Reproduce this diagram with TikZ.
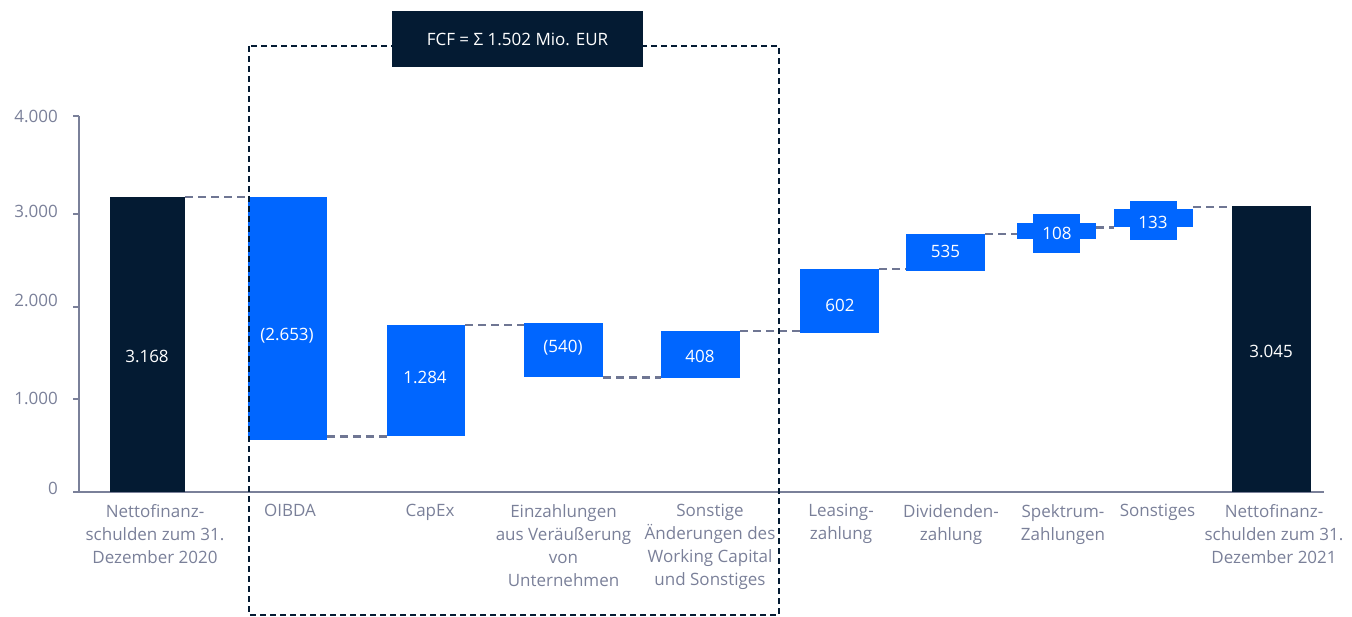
\documentclass[tikz,border=0pt]{standalone}
\usepackage{fontspec}
\setmainfont{Open Sans}
\definecolor{navy}{HTML}{041B33}
\definecolor{vblue}{HTML}{0066FF}
\definecolor{dgray}{HTML}{6F7693}
\definecolor{tgray}{HTML}{7A8099}
\begin{document}
\begin{tikzpicture}[x=1pt,y=-1pt,
  bar/.style={fill=vblue,draw=none,inner sep=0pt,anchor=north west},
  navybar/.style={fill=navy,draw=none,inner sep=0pt,anchor=north west},
  val/.style={text=white,font=\fontsize{17}{19}\selectfont,inner sep=0pt},
  cat/.style={text=tgray,font=\fontsize{17}{23}\selectfont,align=center,inner sep=0pt,anchor=north},
  ylab/.style={text=tgray,font=\fontsize{17}{19}\selectfont,inner sep=0pt,anchor=east},
  conn/.style={draw=dgray,line width=2.5pt,dash pattern=on 8pt off 5pt},
  axis/.style={draw=tgray,line width=2.5pt},
  fcfbox/.style={draw=navy,line width=2pt,dash pattern=on 6pt off 4pt}
]
\useasboundingbox (0,0) rectangle (1352,617);
% axes
\draw[axis] (79,116) -- (79,492) -- (1324,492);
\foreach \yy in {116,214,307,399,492}{
  \draw[axis] (73,\yy) -- (79,\yy);
}
\node[ylab] (y4) at (58,116) {4.000};
\node[ylab] (y3) at (58,211) {3.000};
\node[ylab] (y2) at (58,300) {2.000};
\node[ylab] (y1) at (58,398) {1.000};
\node[ylab] (y0) at (58,488) {0};
% bars
\node[navybar,minimum width=75pt,minimum height=295pt] (b1) at (110,197) {};
\node[bar,minimum width=79pt,minimum height=243pt] (oibda) at (248,197) {};
\node[bar,minimum width=78pt,minimum height=111pt] (capex) at (387,325) {};
\node[bar,minimum width=79pt,minimum height=54pt] (einz) at (524,323) {};
\node[bar,minimum width=79pt,minimum height=47pt] (sonst) at (661,331) {};
\node[bar,minimum width=79pt,minimum height=64pt] (leas) at (800,269) {};
\node[bar,minimum width=79pt,minimum height=37pt] (divi) at (906,234) {};
\node[bar,minimum width=79pt,minimum height=16pt] (spek) at (1017,223) {};
\node[bar,minimum width=47pt,minimum height=39pt] (spekl) at (1033,214) {};
\node[bar,minimum width=79pt,minimum height=18pt] (sons) at (1114,209) {};
\node[bar,minimum width=47pt,minimum height=39pt] (sonsl) at (1130,201) {};
\node[navybar,minimum width=79pt,minimum height=286pt] (endb) at (1232,206) {};
% values
\node[val] (v1) at (147,356) {3.168};
\node[val] (v2) at (287,336) {(2.653)};
\node[val] (v3) at (425,377) {1.284};
\node[val] (v4) at (563,348) {(540)};
\node[val] (v5) at (700,356) {408};
\node[val] (v6) at (840,305) {602};
\node[val] (v7) at (945.5,251) {535};
\node[val] (v8) at (1057,233) {108};
\node[val] (v9) at (1153,222) {133};
\node[val] (v10) at (1271,351) {3.045};
% connectors
\draw[conn] (b1.north east) -- (oibda.north west);
\draw[conn] (oibda.east |- capex.south west) -- (capex.south west);
\draw[conn] (capex.north east) -- (capex.north east -| einz.west);
\draw[conn] (einz.south east) -- (einz.south east -| sonst.west);
\draw[conn] (sonst.north east) -- (sonst.north east -| leas.west);
\draw[conn] (leas.north east) -- (leas.north east -| divi.west);
\draw[conn] (divi.north east) -- (divi.north east -| spek.west);
\draw[conn] (sons.south west -| spek.east) -- (sons.south west);
\draw[conn] ([yshift=2pt]sons.north east) -- ([yshift=2pt]sons.north east -| endb.west);
% FCF box
\draw[fcfbox] (249,46) rectangle (779,615);
\node[fill=navy,text=white,minimum width=251pt,minimum height=56pt,inner sep=0pt,font=\fontsize{17}{19}\selectfont] (fcf) at (517.5,39) {FCF = Σ 1.502 Mio. EUR};
% categories
\node[cat] (c1) at (155,504) {Nettofinanz-\\schulden zum 31.\\Dezember 2020};
\node[cat] (c2) at (290,504) {OIBDA};
\node[cat] (c3) at (430,504) {CapEx};
\node[cat] (c4) at (563.5,504) {Einzahlungen\\aus Veräußerung\\von\\Unternehmen};
\node[cat] (c5) at (710,504) {Sonstige\\Änderungen des\\Working Capital\\und Sonstiges};
\node[cat] (c6) at (841,504) {Leasing-\\zahlung};
\node[cat] (c7) at (951,504) {Dividenden-\\zahlung};
\node[cat] (c8) at (1063,504) {Spektrum-\\Zahlungen};
\node[cat] (c9) at (1157.5,504) {Sonstiges};
\node[cat] (c10) at (1274,504) {Nettofinanz-\\schulden zum 31.\\Dezember 2021};
\end{tikzpicture}
\end{document}
